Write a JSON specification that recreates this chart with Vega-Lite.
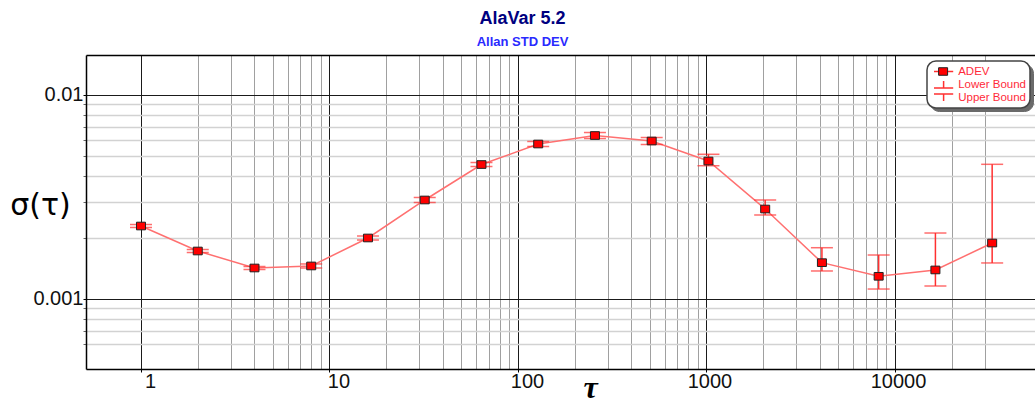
{
  "$schema": "https://vega.github.io/schema/vega-lite/v6.json",
  "width": 949,
  "height": 314,
  "autosize": {"type": "none"},
  "padding": {"left": 86, "top": 55, "right": 0, "bottom": 34},
  "background": "white",
  "title": {
    "text": "AlaVar 5.2",
    "subtitle": "Allan STD DEV",
    "anchor": "middle",
    "frame": "group",
    "dx": -38,
    "offset": 6,
    "font": "Liberation Sans",
    "fontSize": 18,
    "fontWeight": "bold",
    "color": "#000080",
    "subtitleFont": "Liberation Sans",
    "subtitleFontSize": 13,
    "subtitleFontWeight": "bold",
    "subtitleColor": "#2a2aff",
    "subtitlePadding": 8
  },
  "config": {"view": {"stroke": null}},
  "data": {
    "values": [
      {"tau": 1, "adev": 0.002279, "lo": 0.002242, "hi": 0.002318, "series": "ADEV"},
      {"tau": 2, "adev": 0.001719, "lo": 0.00169, "hi": 0.001748, "series": "ADEV"},
      {"tau": 4, "adev": 0.001419, "lo": 0.001395, "hi": 0.001443, "series": "ADEV"},
      {"tau": 8, "adev": 0.001452, "lo": 0.001419, "hi": 0.001485, "series": "ADEV"},
      {"tau": 16, "adev": 0.001991, "lo": 0.001946, "hi": 0.002036, "series": "ADEV"},
      {"tau": 32, "adev": 0.003057, "lo": 0.002972, "hi": 0.003145, "series": "ADEV"},
      {"tau": 64, "adev": 0.004562, "lo": 0.004461, "hi": 0.004667, "series": "ADEV"},
      {"tau": 128, "adev": 0.005751, "lo": 0.005591, "hi": 0.005917, "series": "ADEV"},
      {"tau": 256, "adev": 0.006329, "lo": 0.006118, "hi": 0.006547, "series": "ADEV"},
      {"tau": 512, "adev": 0.005949, "lo": 0.005719, "hi": 0.006188, "series": "ADEV"},
      {"tau": 1024, "adev": 0.004747, "lo": 0.004501, "hi": 0.005121, "series": "ADEV"},
      {"tau": 2048, "adev": 0.002761, "lo": 0.002581, "hi": 0.003057, "series": "ADEV"},
      {"tau": 4096, "adev": 0.001507, "lo": 0.001372, "hi": 0.001784, "series": "ADEV"},
      {"tau": 8192, "adev": 0.001292, "lo": 0.001119, "hi": 0.001643, "series": "ADEV"},
      {"tau": 16384, "adev": 0.001388, "lo": 0.001158, "hi": 0.002106, "series": "ADEV"},
      {"tau": 32768, "adev": 0.001881, "lo": 0.001502, "hi": 0.004573, "series": "ADEV"}
    ]
  },
  "layer": [
    {
      "mark": {"type": "line", "color": "#ff7070", "strokeWidth": 1.5},
      "encoding": {
        "x": {
          "field": "tau", "type": "quantitative",
          "scale": {"type": "log", "domain": [0.5108, 55300], "nice": false},
          "axis": {
            "orient": "bottom",
            "values": [1,2,3,4,5,6,7,8,9,10,20,30,40,50,60,70,80,90,100,200,300,400,500,600,700,800,900,1000,2000,3000,4000,5000,6000,7000,8000,9000,10000,20000,30000],
            "format": "~g",
            "labelExpr": "indexof([1,10,100,1000,10000], datum.value) >= 0 ? datum.label : ''",
            "labelOverlap": false,
            "labelFlush": false,
            "labelFont": "Liberation Sans",
            "labelFontSize": 20,
            "labelColor": "#111",
            "labelPadding": -1,
            "labelOffset": {"condition": {"test": "datum.value < 500", "value": 9}, "value": 3},
            "tickSize": 3,
            "tickColor": {"condition": {"test": "indexof([1,10,100,1000,10000], datum.value) >= 0", "value": "#000"}, "value": "transparent"},
            "grid": true,
            "gridColor": {"condition": {"test": "indexof([1,10,100,1000,10000], datum.value) >= 0", "value": "#1a1a1a"}, "value": "#a0a0a0"},
            "gridWidth": 1,
            "domain": true,
            "domainColor": "#000",
            "domainWidth": 1.5,
            "title": "τ",
            "titleFont": "Liberation Serif",
            "titleFontStyle": "italic",
            "titleFontWeight": "bold",
            "titleFontSize": 32,
            "titleColor": "#000",
            "titleX": 504,
            "titleY": 28,
            "titleAlign": "center",
            "titleBaseline": "alphabetic"
          }
        },
        "y": {
          "field": "adev", "type": "quantitative",
          "scale": {"type": "log", "domain": [0.0004538, 0.015705], "nice": false},
          "axis": {
            "values": [0.0006,0.0007,0.0008,0.0009,0.001,0.002,0.003,0.004,0.005,0.006,0.007,0.008,0.009,0.01],
            "format": "~g",
            "labelExpr": "datum.value == 0.01 || datum.value == 0.001 ? datum.label : ''",
            "labelOverlap": false,
            "labelFlush": false,
            "labelFont": "Liberation Sans",
            "labelFontSize": 20,
            "labelColor": "#111",
            "labelPadding": 0,
            "tickSize": 3,
            "tickColor": {"condition": {"test": "datum.value == 0.01 || datum.value == 0.001", "value": "#000"}, "value": "#666"},
            "grid": true,
            "gridColor": {"condition": {"test": "datum.value == 0.01 || datum.value == 0.001", "value": "#1a1a1a"}, "value": "#d2d2d2"},
            "gridWidth": {"condition": {"test": "datum.value == 0.01 || datum.value == 0.001", "value": 1}, "value": 1.5},
            "domain": true,
            "domainColor": "#000",
            "domainWidth": 1.5,
            "title": "σ(τ)",
            "titleAngle": 0,
            "titleFont": "DejaVu Sans",
            "titleFontSize": 30,
            "titleFontWeight": "normal",
            "titleColor": "#000",
            "titleX": -46,
            "titleY": 159,
            "titleAlign": "center",
            "titleBaseline": "alphabetic"
          }
        }
      }
    },
    {
      "mark": {"type": "rule", "strokeWidth": 1.5},
      "encoding": {
        "x": {
          "field": "tau", "type": "quantitative",
          "axis": {"orient": "top", "domain": true, "domainColor": "#000", "domainWidth": 1.5, "ticks": false, "labels": false, "grid": false, "title": null}
        },
        "y": {"field": "lo", "type": "quantitative", "axis": null},
        "y2": {"field": "hi"},
        "color": {
          "field": "series", "type": "nominal",
          "scale": {"domain": ["ADEV", "Lower Bound", "Upper Bound"], "range": ["#ff3030", "#ff3030", "#ff3030"]},
          "legend": {
            "title": null,
            "orient": "none",
            "legendX": 841,
            "legendY": 6,
            "symbolSize": 144,
            "symbolOffset": 5.6,
            "symbolStrokeWidth": 1.5,
            "labelFont": "Liberation Sans",
            "labelFontSize": 11.5,
            "labelColor": "#ff2a3a",
            "labelOffset": 7.6,
            "padding": 4,
            "rowPadding": 0,
            "clipHeight": 13,
            "fillColor": "#ffffff",
            "strokeColor": "#444444",
            "cornerRadius": 9,
            "zindex": 1,
            "encode": {
              "legend": {"update": {"strokeWidth": {"value": 1.5}}},
              "symbols": {
                "update": {
                  "shape": [
                    {"test": "datum.label === 'ADEV'", "value": "M-1.6,0H1.6"},
                    {"test": "datum.label === 'Lower Bound'", "value": "M-1.6,0.6H1.6M0,-0.6V0.6"},
                    {"value": "M-1.6,-0.6H1.6M0,-0.6V0.6"}
                  ]
                }
              }
            }
          }
        }
      }
    },
    {
      "mark": {"type": "tick", "orient": "horizontal", "size": 22, "thickness": 1.5, "color": "#ff3030"},
      "encoding": {
        "x": {"field": "tau", "type": "quantitative", "axis": null},
        "y": {"field": "lo", "type": "quantitative", "axis": null},
        "strokeDash": {
          "field": "series", "type": "nominal",
          "scale": {"domain": ["Upper Bound", "Lower Bound", "ADEV"], "range": [[1, 0], [1, 0], [1, 0]]},
          "legend": {
            "title": null,
            "orient": "none",
            "legendX": 844,
            "legendY": 9,
            "symbolSize": 144,
            "symbolOffset": 5.6,
            "symbolOpacity": 0,
            "labelFont": "Liberation Sans",
            "labelFontSize": 11.5,
            "labelColor": "transparent",
            "labelOffset": 7.6,
            "padding": 4,
            "rowPadding": 0,
            "clipHeight": 13,
            "fillColor": "#6a6a6a",
            "strokeColor": "#6a6a6a",
            "cornerRadius": 9,
            "zindex": 0,
            "encode": {
              "symbols": {
                "update": {
                  "shape": {"value": "M-1.6,0H1.6"},
                  "size": {"value": 144},
                  "stroke": {"value": "transparent"},
                  "fill": {"value": "transparent"},
                  "opacity": {"value": 0},
                  "strokeWidth": {"value": 1}
                }
              },
              "labels": {"update": {"fill": {"value": "transparent"}}}
            }
          }
        }
      }
    },
    {
      "mark": {"type": "tick", "orient": "horizontal", "size": 22, "thickness": 1.5, "color": "#ff3030"},
      "encoding": {
        "x": {"field": "tau", "type": "quantitative", "axis": null},
        "y": {"field": "hi", "type": "quantitative", "axis": null}
      }
    },
    {
      "mark": {"type": "point", "shape": "M-1,-0.85H1V0.85H-1Z", "size": 81, "filled": true, "stroke": "#222", "strokeWidth": 1, "opacity": 1},
      "encoding": {
        "x": {"field": "tau", "type": "quantitative", "axis": null},
        "y": {"field": "adev", "type": "quantitative", "axis": null},
        "fill": {
          "field": "series", "type": "nominal",
          "scale": {"domain": ["ADEV"], "range": ["#ff0000"]},
          "legend": {
            "title": null,
            "orient": "none",
            "legendX": 841,
            "legendY": 6,
            "symbolSize": 144,
            "symbolOffset": 5.6,
            "symbolType": "M-0.75,-0.63H0.75V0.63H-0.75Z",
            "symbolStrokeColor": "#222",
            "symbolStrokeWidth": 1,
            "labelFont": "Liberation Sans",
            "labelFontSize": 11.5,
            "labelColor": "transparent",
            "labelOffset": 7.6,
            "padding": 4,
            "rowPadding": 0,
            "clipHeight": 13,
            "zindex": 2
          }
        }
      }
    }
  ],
  "resolve": {"axis": {"x": "independent", "y": "independent"}}
}
